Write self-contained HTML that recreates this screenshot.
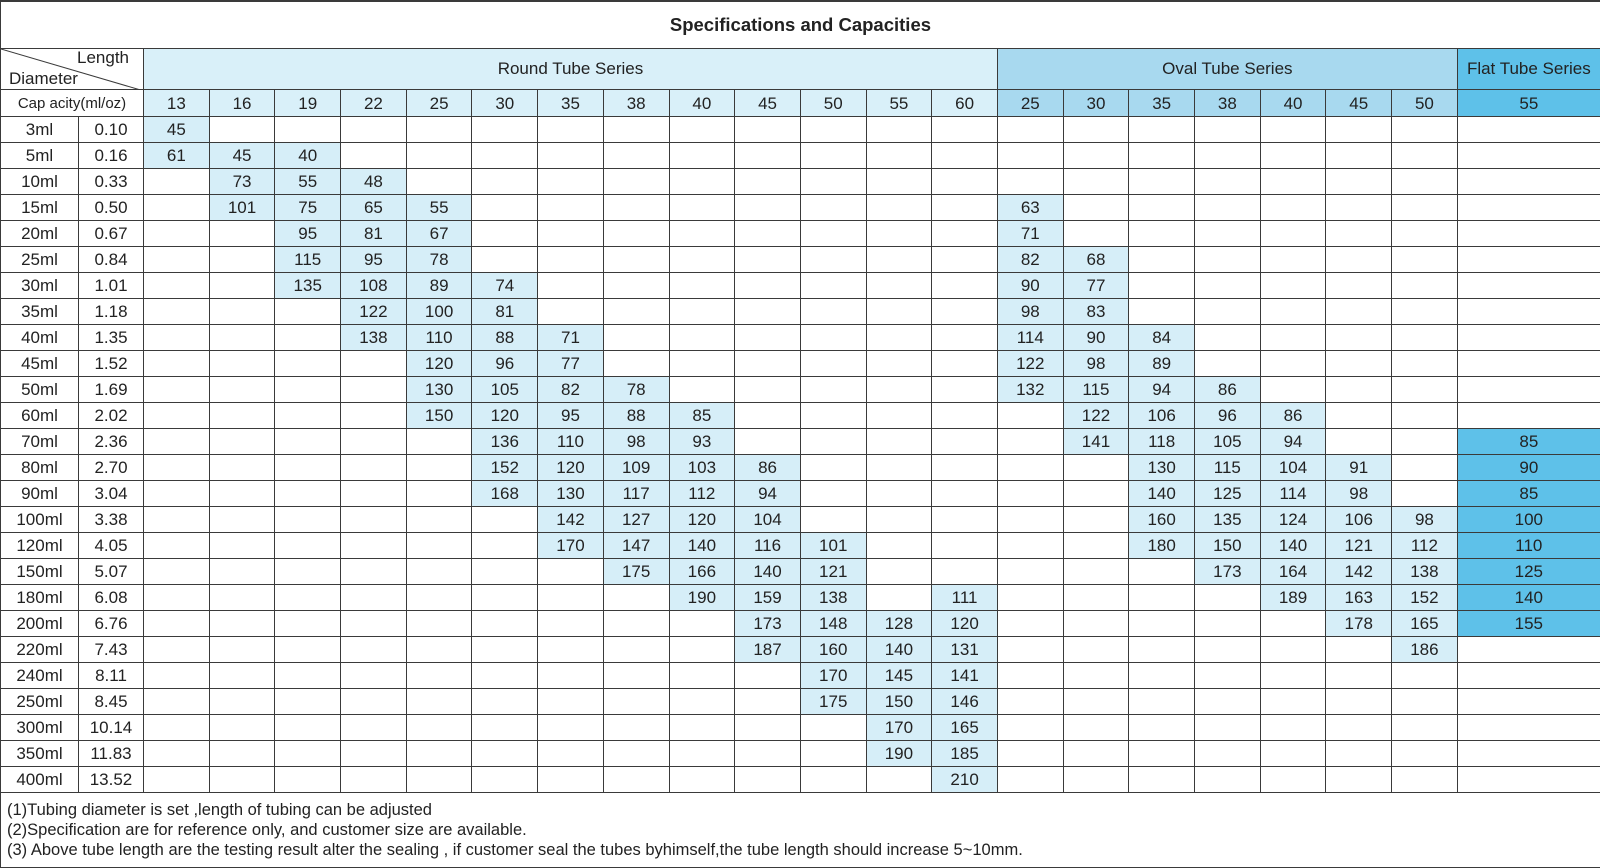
<!DOCTYPE html>
<html><head><meta charset="utf-8"><style>
html,body{margin:0;padding:0;background:#fff;}
body{width:1600px;height:866px;overflow:hidden;}
table{position:absolute;left:0;top:0;width:1600px;border-collapse:collapse;table-layout:fixed;font-family:"Liberation Sans",sans-serif;font-size:17px;color:#222;}
td{border:1px solid #3a3a3a;text-align:center;padding:0;height:25px;line-height:25px;white-space:nowrap;overflow:hidden;}
td.b{background:#d6eef8;}
td.f{background:#5ec1e9;}
td.o{background:#a8d9ef;}
td.r{background:#d9f0f9;}
tr.t td{height:46px;line-height:46px;font-weight:bold;font-size:18.5px;border-top:2px solid #3a3a3a;}
tr.h td{height:40px;line-height:40px;}
td.n{text-align:left;padding-left:6px;line-height:20px;font-size:16.5px;height:74px;vertical-align:middle;}
</style></head><body>
<table>
<colgroup><col style="width:78px"><col style="width:65px">
<col style="width:65.7px"><col style="width:65.7px"><col style="width:65.7px"><col style="width:65.7px"><col style="width:65.7px"><col style="width:65.7px"><col style="width:65.7px"><col style="width:65.7px"><col style="width:65.7px"><col style="width:65.7px"><col style="width:65.7px"><col style="width:65.7px"><col style="width:65.7px">
<col style="width:65.7px"><col style="width:65.7px"><col style="width:65.7px"><col style="width:65.7px"><col style="width:65.7px"><col style="width:65.7px"><col style="width:65.7px">
<col style="width:143px"></colgroup>
<tr class="t"><td colspan="23">Specifications and Capacities</td></tr>
<tr class="h"><td colspan="2" style="position:relative;padding:0;">
<svg width="143" height="42" style="position:absolute;left:0;top:0"><line x1="0" y1="0" x2="143" y2="42" stroke="#3a3a3a" stroke-width="1"/></svg>
<span style="position:absolute;right:14px;top:-2px;line-height:22px;">Length</span>
<span style="position:absolute;left:8px;top:19px;line-height:22px;">Diameter</span></td>
<td colspan="13" class="r">Round Tube Series</td><td colspan="7" class="o">Oval Tube Series</td><td class="f">Flat Tube Series</td></tr>
<tr><td colspan="2" style="font-size:15px;height:26px">Cap acity(ml/oz)</td>
<td class="r">13</td><td class="r">16</td><td class="r">19</td><td class="r">22</td><td class="r">25</td><td class="r">30</td><td class="r">35</td><td class="r">38</td><td class="r">40</td><td class="r">45</td><td class="r">50</td><td class="r">55</td><td class="r">60</td>
<td class="o">25</td><td class="o">30</td><td class="o">35</td><td class="o">38</td><td class="o">40</td><td class="o">45</td><td class="o">50</td><td class="f">55</td></tr>
<tr><td>3ml</td><td>0.10</td><td class="b">45</td><td></td><td></td><td></td><td></td><td></td><td></td><td></td><td></td><td></td><td></td><td></td><td></td><td></td><td></td><td></td><td></td><td></td><td></td><td></td><td></td></tr>
<tr><td>5ml</td><td>0.16</td><td class="b">61</td><td class="b">45</td><td class="b">40</td><td></td><td></td><td></td><td></td><td></td><td></td><td></td><td></td><td></td><td></td><td></td><td></td><td></td><td></td><td></td><td></td><td></td><td></td></tr>
<tr><td>10ml</td><td>0.33</td><td></td><td class="b">73</td><td class="b">55</td><td class="b">48</td><td></td><td></td><td></td><td></td><td></td><td></td><td></td><td></td><td></td><td></td><td></td><td></td><td></td><td></td><td></td><td></td><td></td></tr>
<tr><td>15ml</td><td>0.50</td><td></td><td class="b">101</td><td class="b">75</td><td class="b">65</td><td class="b">55</td><td></td><td></td><td></td><td></td><td></td><td></td><td></td><td></td><td class="b">63</td><td></td><td></td><td></td><td></td><td></td><td></td><td></td></tr>
<tr><td>20ml</td><td>0.67</td><td></td><td></td><td class="b">95</td><td class="b">81</td><td class="b">67</td><td></td><td></td><td></td><td></td><td></td><td></td><td></td><td></td><td class="b">71</td><td></td><td></td><td></td><td></td><td></td><td></td><td></td></tr>
<tr><td>25ml</td><td>0.84</td><td></td><td></td><td class="b">115</td><td class="b">95</td><td class="b">78</td><td></td><td></td><td></td><td></td><td></td><td></td><td></td><td></td><td class="b">82</td><td class="b">68</td><td></td><td></td><td></td><td></td><td></td><td></td></tr>
<tr><td>30ml</td><td>1.01</td><td></td><td></td><td class="b">135</td><td class="b">108</td><td class="b">89</td><td class="b">74</td><td></td><td></td><td></td><td></td><td></td><td></td><td></td><td class="b">90</td><td class="b">77</td><td></td><td></td><td></td><td></td><td></td><td></td></tr>
<tr><td>35ml</td><td>1.18</td><td></td><td></td><td></td><td class="b">122</td><td class="b">100</td><td class="b">81</td><td></td><td></td><td></td><td></td><td></td><td></td><td></td><td class="b">98</td><td class="b">83</td><td></td><td></td><td></td><td></td><td></td><td></td></tr>
<tr><td>40ml</td><td>1.35</td><td></td><td></td><td></td><td class="b">138</td><td class="b">110</td><td class="b">88</td><td class="b">71</td><td></td><td></td><td></td><td></td><td></td><td></td><td class="b">114</td><td class="b">90</td><td class="b">84</td><td></td><td></td><td></td><td></td><td></td></tr>
<tr><td>45ml</td><td>1.52</td><td></td><td></td><td></td><td></td><td class="b">120</td><td class="b">96</td><td class="b">77</td><td></td><td></td><td></td><td></td><td></td><td></td><td class="b">122</td><td class="b">98</td><td class="b">89</td><td></td><td></td><td></td><td></td><td></td></tr>
<tr><td>50ml</td><td>1.69</td><td></td><td></td><td></td><td></td><td class="b">130</td><td class="b">105</td><td class="b">82</td><td class="b">78</td><td></td><td></td><td></td><td></td><td></td><td class="b">132</td><td class="b">115</td><td class="b">94</td><td class="b">86</td><td></td><td></td><td></td><td></td></tr>
<tr><td>60ml</td><td>2.02</td><td></td><td></td><td></td><td></td><td class="b">150</td><td class="b">120</td><td class="b">95</td><td class="b">88</td><td class="b">85</td><td></td><td></td><td></td><td></td><td></td><td class="b">122</td><td class="b">106</td><td class="b">96</td><td class="b">86</td><td></td><td></td><td></td></tr>
<tr><td>70ml</td><td>2.36</td><td></td><td></td><td></td><td></td><td></td><td class="b">136</td><td class="b">110</td><td class="b">98</td><td class="b">93</td><td></td><td></td><td></td><td></td><td></td><td class="b">141</td><td class="b">118</td><td class="b">105</td><td class="b">94</td><td></td><td></td><td class="f">85</td></tr>
<tr><td>80ml</td><td>2.70</td><td></td><td></td><td></td><td></td><td></td><td class="b">152</td><td class="b">120</td><td class="b">109</td><td class="b">103</td><td class="b">86</td><td></td><td></td><td></td><td></td><td></td><td class="b">130</td><td class="b">115</td><td class="b">104</td><td class="b">91</td><td></td><td class="f">90</td></tr>
<tr><td>90ml</td><td>3.04</td><td></td><td></td><td></td><td></td><td></td><td class="b">168</td><td class="b">130</td><td class="b">117</td><td class="b">112</td><td class="b">94</td><td></td><td></td><td></td><td></td><td></td><td class="b">140</td><td class="b">125</td><td class="b">114</td><td class="b">98</td><td></td><td class="f">85</td></tr>
<tr><td>100ml</td><td>3.38</td><td></td><td></td><td></td><td></td><td></td><td></td><td class="b">142</td><td class="b">127</td><td class="b">120</td><td class="b">104</td><td></td><td></td><td></td><td></td><td></td><td class="b">160</td><td class="b">135</td><td class="b">124</td><td class="b">106</td><td class="b">98</td><td class="f">100</td></tr>
<tr><td>120ml</td><td>4.05</td><td></td><td></td><td></td><td></td><td></td><td></td><td class="b">170</td><td class="b">147</td><td class="b">140</td><td class="b">116</td><td class="b">101</td><td></td><td></td><td></td><td></td><td class="b">180</td><td class="b">150</td><td class="b">140</td><td class="b">121</td><td class="b">112</td><td class="f">110</td></tr>
<tr><td>150ml</td><td>5.07</td><td></td><td></td><td></td><td></td><td></td><td></td><td></td><td class="b">175</td><td class="b">166</td><td class="b">140</td><td class="b">121</td><td></td><td></td><td></td><td></td><td></td><td class="b">173</td><td class="b">164</td><td class="b">142</td><td class="b">138</td><td class="f">125</td></tr>
<tr><td>180ml</td><td>6.08</td><td></td><td></td><td></td><td></td><td></td><td></td><td></td><td></td><td class="b">190</td><td class="b">159</td><td class="b">138</td><td></td><td class="b">111</td><td></td><td></td><td></td><td></td><td class="b">189</td><td class="b">163</td><td class="b">152</td><td class="f">140</td></tr>
<tr><td>200ml</td><td>6.76</td><td></td><td></td><td></td><td></td><td></td><td></td><td></td><td></td><td></td><td class="b">173</td><td class="b">148</td><td class="b">128</td><td class="b">120</td><td></td><td></td><td></td><td></td><td></td><td class="b">178</td><td class="b">165</td><td class="f">155</td></tr>
<tr><td>220ml</td><td>7.43</td><td></td><td></td><td></td><td></td><td></td><td></td><td></td><td></td><td></td><td class="b">187</td><td class="b">160</td><td class="b">140</td><td class="b">131</td><td></td><td></td><td></td><td></td><td></td><td></td><td class="b">186</td><td></td></tr>
<tr><td>240ml</td><td>8.11</td><td></td><td></td><td></td><td></td><td></td><td></td><td></td><td></td><td></td><td></td><td class="b">170</td><td class="b">145</td><td class="b">141</td><td></td><td></td><td></td><td></td><td></td><td></td><td></td><td></td></tr>
<tr><td>250ml</td><td>8.45</td><td></td><td></td><td></td><td></td><td></td><td></td><td></td><td></td><td></td><td></td><td class="b">175</td><td class="b">150</td><td class="b">146</td><td></td><td></td><td></td><td></td><td></td><td></td><td></td><td></td></tr>
<tr><td>300ml</td><td>10.14</td><td></td><td></td><td></td><td></td><td></td><td></td><td></td><td></td><td></td><td></td><td></td><td class="b">170</td><td class="b">165</td><td></td><td></td><td></td><td></td><td></td><td></td><td></td><td></td></tr>
<tr><td>350ml</td><td>11.83</td><td></td><td></td><td></td><td></td><td></td><td></td><td></td><td></td><td></td><td></td><td></td><td class="b">190</td><td class="b">185</td><td></td><td></td><td></td><td></td><td></td><td></td><td></td><td></td></tr>
<tr><td>400ml</td><td>13.52</td><td></td><td></td><td></td><td></td><td></td><td></td><td></td><td></td><td></td><td></td><td></td><td></td><td class="b">210</td><td></td><td></td><td></td><td></td><td></td><td></td><td></td><td></td></tr>
<tr><td colspan="23" class="n">(1)Tubing diameter is set ,length of tubing can be adjusted<br>(2)Specification are for reference only, and customer size are available.<br>(3) Above tube length are the testing result alter the sealing , if customer seal the tubes byhimself,the tube length should increase 5~10mm.</td></tr>
</table>
</body></html>
